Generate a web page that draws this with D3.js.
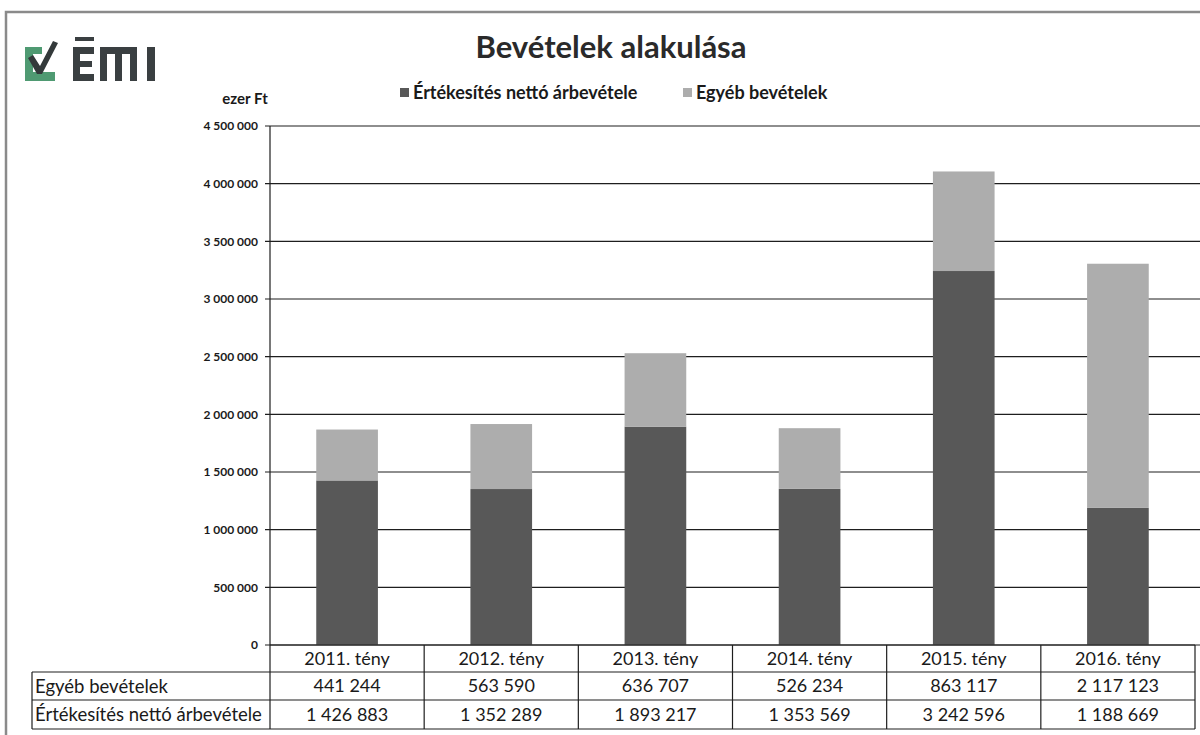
<!DOCTYPE html>
<html>
<head>
<meta charset="utf-8">
<script src="https://cdn.jsdelivr.net/npm/d3@7"></script>
<style>
  body { margin: 0; background: #fff; }
  text { font-family: Lato, "Open Sans", sans-serif; fill: #1a1a1a; }
</style>
</head>
<body>
<div id="chart"></div>
<script>
// categories and series values (ezer Ft)
const years = ['2011. tény', '2012. tény', '2013. tény', '2014. tény', '2015. tény', '2016. tény'];
const netSales = [1426883, 1352289, 1893217, 1353569, 3242596, 1188669];   // Értékesítés nettó árbevétele
const otherIncome = [441244, 563590, 636707, 526234, 863117, 2117123];     // Egyéb bevételek
const yTicks = [0, 500000, 1000000, 1500000, 2000000, 2500000, 3000000, 3500000, 4000000, 4500000];

const seriesNames = ['Értékesítés nettó árbevétele', 'Egyéb bevételek'];
const seriesColors = ['#585858', '#adadad'];

const width = 1200, height = 735;
const plotLeft = 270, plotRight = 1195, plotTop = 126, plotBottom = 645;

const svg = d3.select('#chart').append('svg')
    .attr('width', width)
    .attr('height', height);

// scanned page frame
svg.append('path')
    .attr('d', `M6,${height} L6,12 L${width},12`)
    .attr('fill', 'none')
    .attr('stroke', '#8a8a8a')
    .attr('stroke-width', 2.5);

// scales
const x = d3.scaleBand()
    .domain(years)
    .range([plotLeft, plotRight])
    .paddingInner(0.6)
    .paddingOuter(0.3);

const xCol = d3.scaleBand()
    .domain(years)
    .range([plotLeft, plotRight]);

const y = d3.scaleLinear()
    .domain([0, 4500000])
    .range([plotBottom, plotTop]);

// gridlines
svg.append('g')
    .selectAll('line')
    .data(yTicks)
    .enter()
    .append('line')
    .attr('x1', plotLeft - 5)
    .attr('x2', width)
    .attr('y1', d => y(d))
    .attr('y2', d => y(d))
    .attr('stroke', '#1e1e1e')
    .attr('stroke-width', 1.2);

// y axis line
svg.append('line')
    .attr('x1', plotLeft).attr('x2', plotLeft)
    .attr('y1', plotTop).attr('y2', plotBottom)
    .attr('stroke', '#1e1e1e')
    .attr('stroke-width', 1.2);

// y tick labels with space as thousands separator
const fmt = v => d3.format(',')(v).replace(/,/g, ' ');

svg.append('g')
    .selectAll('text')
    .data(yTicks)
    .enter()
    .append('text')
    .attr('x', plotLeft - 12)
    .attr('y', d => y(d))
    .attr('dy', '0.35em')
    .attr('text-anchor', 'end')
    .style('font-size', '12px')
    .style('font-weight', 'bold')
    .text(d => fmt(d));

svg.append('text')
    .attr('x', 245)
    .attr('y', 104)
    .attr('text-anchor', 'middle')
    .style('font-size', '15px')
    .style('font-weight', 'bold')
    .text('ezer Ft');

// stacked bars
const rows = years.map((yr, i) => ({ year: yr, net: netSales[i], other: otherIncome[i] }));
const stacked = d3.stack().keys(['net', 'other'])(rows);

svg.append('g')
    .selectAll('g')
    .data(stacked)
    .enter()
    .append('g')
    .attr('fill', (d, i) => seriesColors[i])
    .selectAll('rect')
    .data(d => d)
    .enter()
    .append('rect')
    .attr('x', d => x(d.data.year))
    .attr('width', x.bandwidth())
    .attr('y', d => y(d[1]))
    .attr('height', d => y(d[0]) - y(d[1]));

// title
svg.append('text')
    .attr('x', 611)
    .attr('y', 58)
    .attr('text-anchor', 'middle')
    .style('font-size', '31px')
    .style('font-weight', 'bold')
    .style('fill', '#2a2a2a')
    .text('Bevételek alakulása');

// legend
const legendX = [400, 683];
const legend = svg.selectAll('.legend')
    .data(seriesNames)
    .enter()
    .append('g')
    .attr('class', 'legend')
    .attr('transform', (d, i) => `translate(${legendX[i]}, 93)`);

legend.append('rect')
    .attr('x', 0)
    .attr('y', -5)
    .attr('width', 9)
    .attr('height', 9)
    .attr('fill', (d, i) => seriesColors[i]);

legend.append('text')
    .attr('x', 13)
    .attr('y', 0)
    .attr('dy', '0.35em')
    .style('font-size', '18px')
    .style('font-weight', 'bold')
    .text(d => d);

// logo
const logo = svg.append('g');
logo.append('path')
    .attr('d', 'M25,47 L42,47 L42,54 L33,54 L33,72 L55,72 L55,81 L25,81 Z')
    .attr('fill', '#4f9a72');
logo.append('path')
    .attr('d', 'M28,58 L33,55 L40,66 L53,41 L58,43 L42,74 L37,74 Z')
    .attr('fill', '#33393a');
const logoDark = '#3a3f41';
[
    [73, 47, 7, 34], [73, 47, 21, 7], [73, 61, 19, 6], [73, 74, 21, 7], [75, 37, 19, 4],     // Ē
    [100, 47, 37, 7], [100, 47, 7, 34], [115, 47, 7, 34], [130, 47, 7, 34],                    // M
    [147, 47, 8, 34]                                                                            // I
].forEach(r => {
    logo.append('rect')
        .attr('x', r[0]).attr('y', r[1])
        .attr('width', r[2]).attr('height', r[3])
        .attr('fill', logoDark);
});

// data table below the chart
const tableLeft = 32;
const rowTops = [645, 672, 700, 729];
const table = svg.append('g');
const lineStyle = sel => sel.attr('stroke', '#1e1e1e').attr('stroke-width', 1.2);

// horizontal lines
table.append('line').attr('x1', tableLeft).attr('x2', plotRight).attr('y1', rowTops[1]).attr('y2', rowTops[1]).call(lineStyle);
table.append('line').attr('x1', tableLeft).attr('x2', plotRight).attr('y1', rowTops[2]).attr('y2', rowTops[2]).call(lineStyle);
table.append('line').attr('x1', tableLeft).attr('x2', plotRight).attr('y1', rowTops[3]).attr('y2', rowTops[3]).call(lineStyle);
table.append('line').attr('x1', plotLeft).attr('x2', plotRight).attr('y1', rowTops[0]).attr('y2', rowTops[0]).call(lineStyle);
// vertical lines
table.append('line').attr('x1', tableLeft).attr('x2', tableLeft).attr('y1', rowTops[1]).attr('y2', rowTops[3]).call(lineStyle);
table.selectAll('.vline')
    .data(years)
    .enter()
    .append('line')
    .attr('x1', d => xCol(d))
    .attr('x2', d => xCol(d))
    .attr('y1', rowTops[0])
    .attr('y2', rowTops[3])
    .call(lineStyle);
table.append('line').attr('x1', plotRight).attr('x2', plotRight).attr('y1', rowTops[0]).attr('y2', rowTops[3]).call(lineStyle);

// header row
table.selectAll('.hdr')
    .data(years)
    .enter()
    .append('text')
    .attr('x', d => xCol(d) + xCol.bandwidth() / 2)
    .attr('y', (rowTops[0] + rowTops[1]) / 2)
    .attr('dy', '0.36em')
    .attr('text-anchor', 'middle')
    .style('font-size', '18px')
    .text(d => d);

// value rows: other income on top, net sales below
const tableRows = [
    { name: seriesNames[1], values: otherIncome },
    { name: seriesNames[0], values: netSales }
];

tableRows.forEach((row, r) => {
    const cy = (rowTops[r + 1] + rowTops[r + 2]) / 2;
    table.append('text')
        .attr('x', tableLeft + 3)
        .attr('y', cy)
        .attr('dy', '0.36em')
        .style('font-size', '18.5px')
        .text(row.name);
    table.selectAll('.v' + r)
        .data(row.values)
        .enter()
        .append('text')
        .attr('x', (d, i) => xCol(years[i]) + xCol.bandwidth() / 2)
        .attr('y', cy)
        .attr('dy', '0.36em')
        .attr('text-anchor', 'middle')
        .style('font-size', '18px')
        .text(d => fmt(d));
});
</script>
</body>
</html>
